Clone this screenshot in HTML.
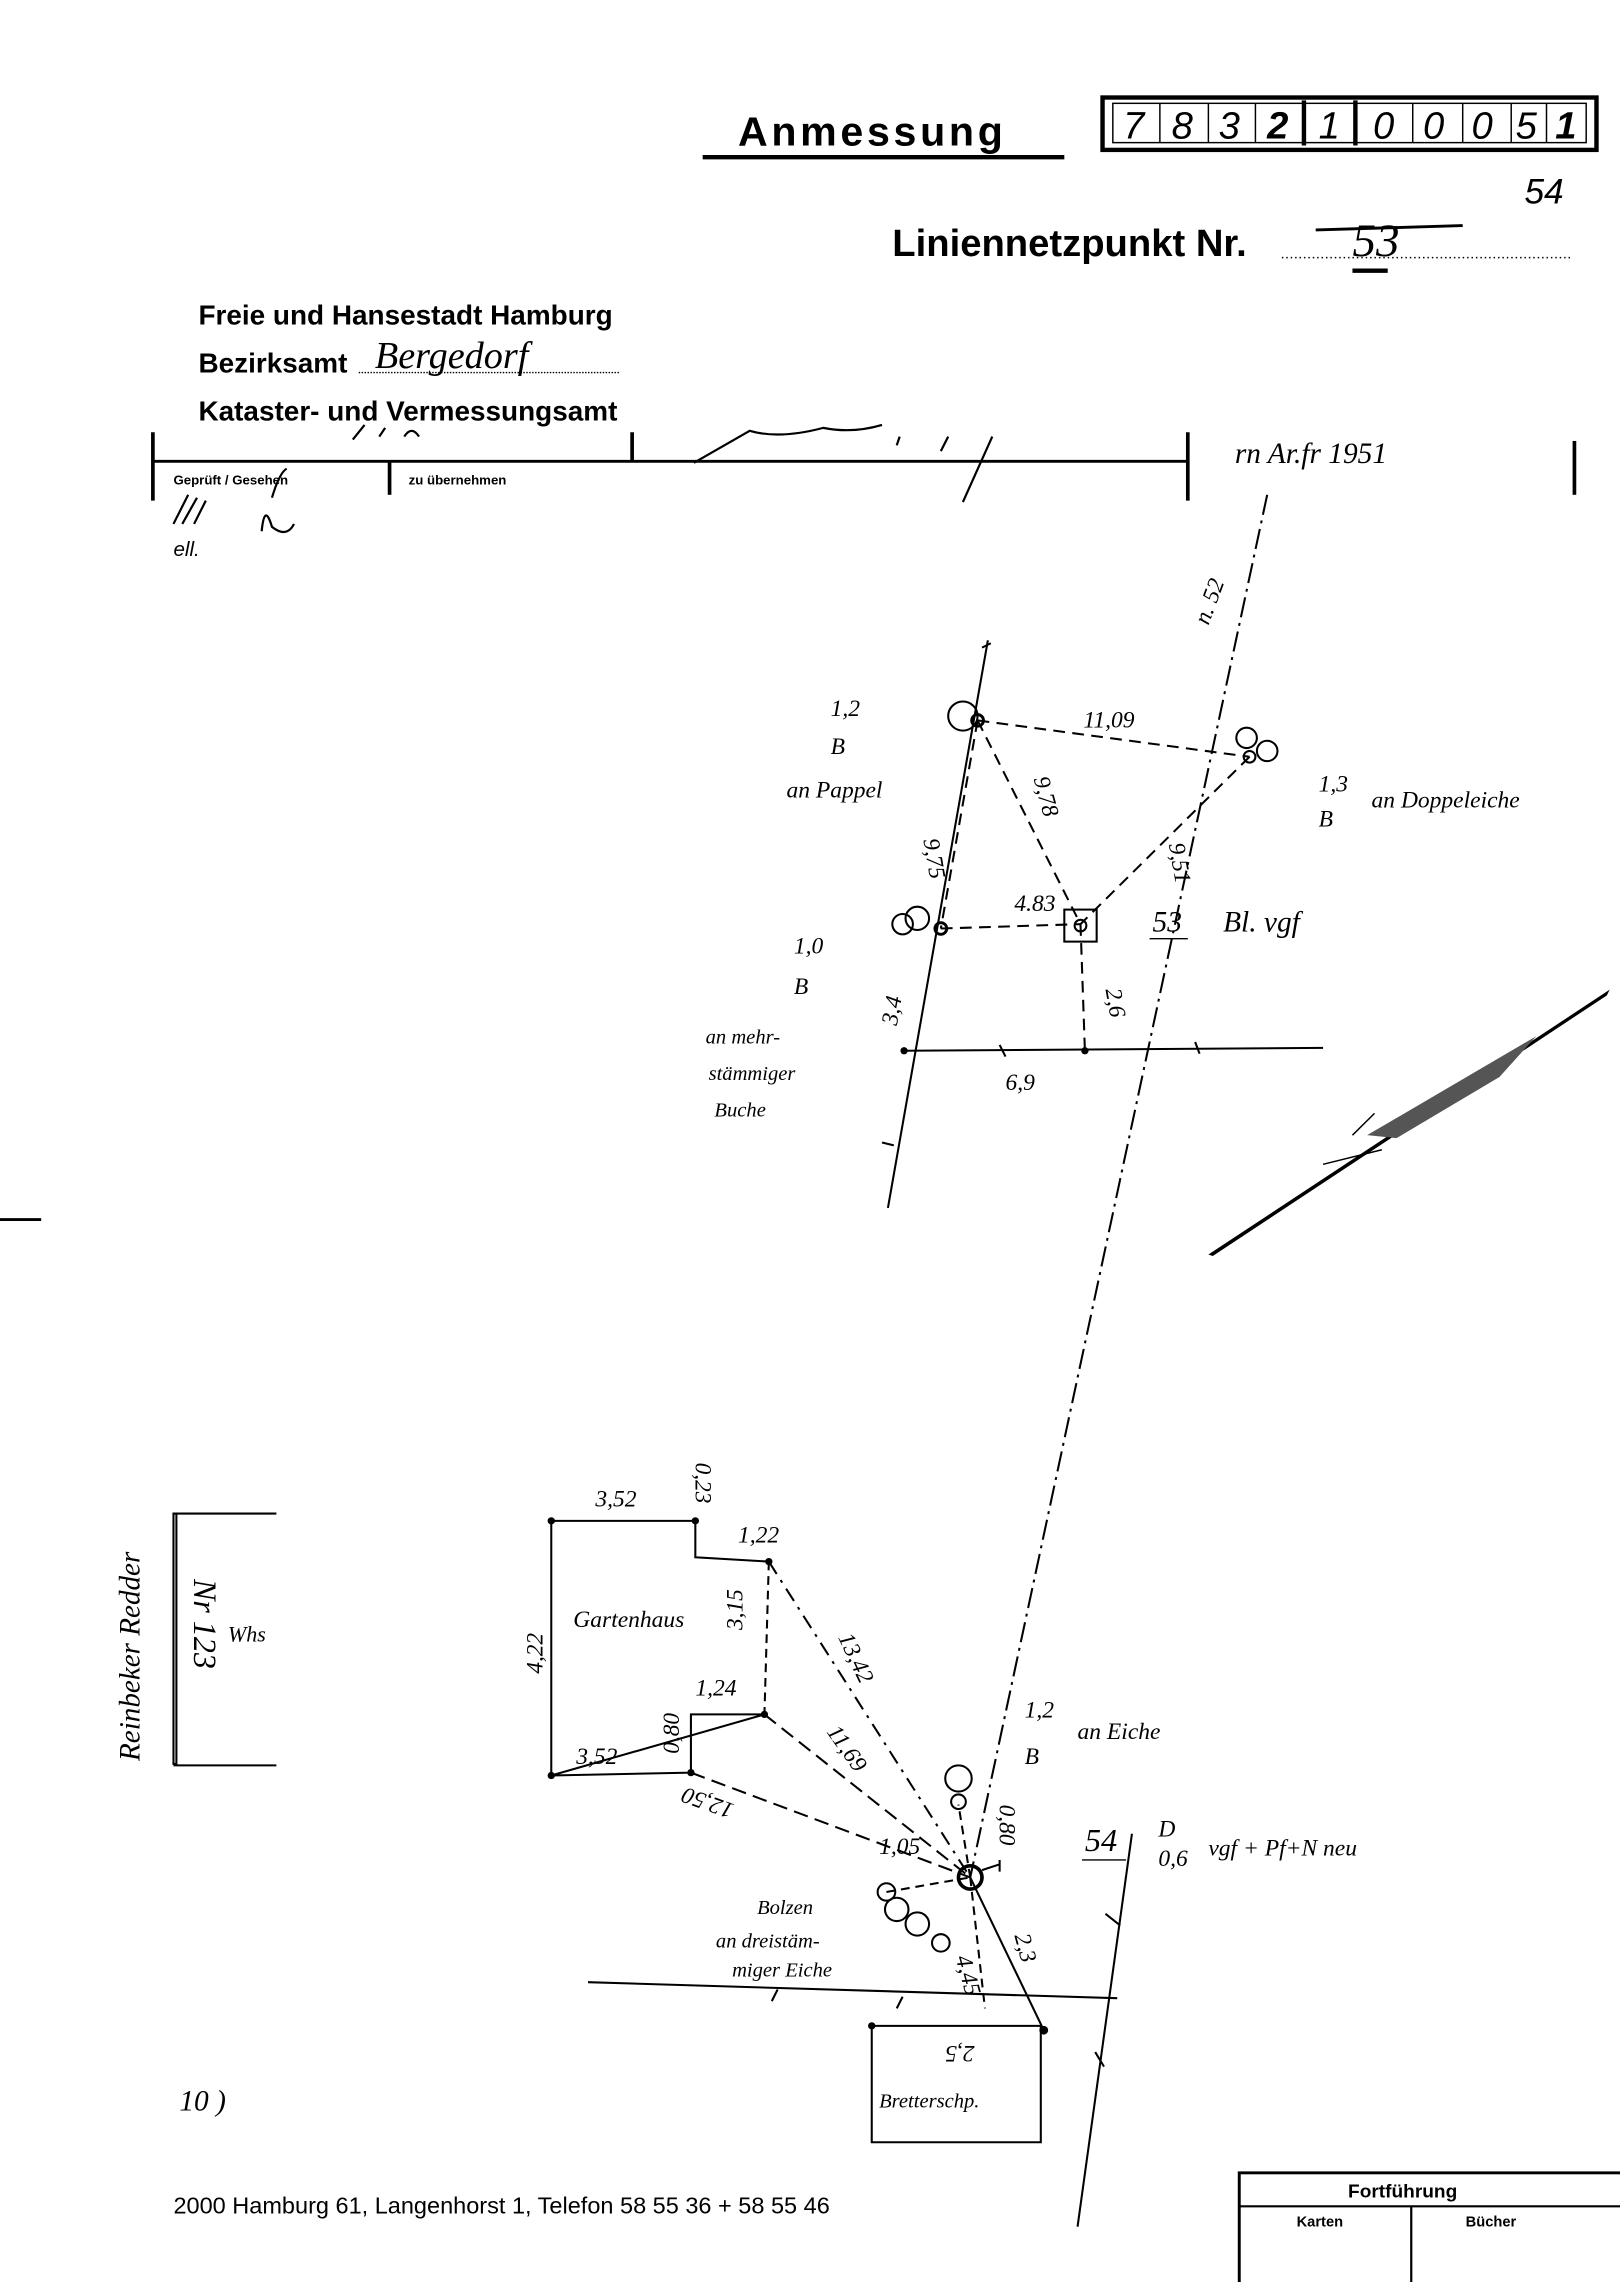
<!DOCTYPE html>
<html><head><meta charset="utf-8"><style>
html,body{margin:0;padding:0;background:#fff}
svg{display:block}
</style></head><body>
<svg width="1620" height="2282" viewBox="0 0 1102 1568" preserveAspectRatio="none" xmlns="http://www.w3.org/2000/svg" font-family="Liberation Sans, sans-serif">
<rect width="1102" height="1568" fill="#fff"/>
<!-- header -->
<text x="502" y="100" font-size="28" font-weight="bold" letter-spacing="2.5">Anmessung</text>
<line x1="478" y1="108" x2="724" y2="108" stroke="#000" stroke-width="3"/>
<rect x="750" y="67" width="336" height="36" fill="none" stroke="#000" stroke-width="3"/>
<rect x="757" y="71" width="322" height="27" fill="none" stroke="#000" stroke-width="1"/>
<g stroke="#000" stroke-width="1">
<line x1="789" y1="71" x2="789" y2="98"/><line x1="822" y1="71" x2="822" y2="98"/><line x1="854" y1="71" x2="854" y2="98"/>
<line x1="887" y1="69" x2="887" y2="100" stroke-width="3"/><line x1="922" y1="69" x2="922" y2="100" stroke-width="3"/>
<line x1="961" y1="71" x2="961" y2="98"/><line x1="995" y1="71" x2="995" y2="98"/><line x1="1028" y1="71" x2="1028" y2="98"/><line x1="1052" y1="71" x2="1052" y2="98"/>
</g>
<g font-size="26" font-style="italic" font-family="Liberation Sans, sans-serif">
<text x="764" y="95">7</text><text x="797" y="95">8</text><text x="829" y="95">3</text><text x="862" y="95" font-weight="bold">2</text><text x="897" y="95">1</text><text x="934" y="95">0</text><text x="968" y="95">0</text><text x="1001" y="95">0</text><text x="1031" y="95">5</text><text x="1058" y="95" font-weight="bold">1</text>
</g>
<text x="1037" y="140" font-size="24" font-style="italic">54</text>
<text x="607" y="176" font-size="26" font-weight="bold">Liniennetzpunkt Nr.</text>
<line x1="872" y1="177" x2="1068" y2="177" stroke="#000" stroke-width="1" stroke-dasharray="1 2"/>
<text x="920" y="176" font-size="32" font-style="italic" font-family="Liberation Serif, serif">53</text>
<line x1="895" y1="158" x2="995" y2="155" stroke="#000" stroke-width="2"/>
<line x1="920" y1="186" x2="944" y2="186" stroke="#000" stroke-width="3"/>

<g font-size="19" font-weight="bold">
<text x="135" y="223">Freie und Hansestadt Hamburg</text>
<text x="135" y="256">Bezirksamt</text>
<text x="135" y="289">Kataster- und Vermessungsamt</text>
</g>
<line x1="244" y1="256" x2="421" y2="256" stroke="#000" stroke-width="1" stroke-dasharray="1 1"/>
<text x="255" y="253" font-size="26" font-style="italic" font-family="Liberation Serif, serif">Bergedorf</text>
<line x1="105" y1="317" x2="808" y2="317" stroke="#000" stroke-width="2"/>
<g stroke="#000" stroke-width="2.5">
<line x1="104" y1="297" x2="104" y2="344"/><line x1="265" y1="317" x2="265" y2="340"/><line x1="430" y1="297" x2="430" y2="317"/><line x1="808" y1="297" x2="808" y2="344"/><line x1="1071" y1="303" x2="1071" y2="340"/>
</g>
<text x="118" y="333" font-size="9" font-weight="bold">Geprüft / Gesehen</text>
<text x="278" y="333" font-size="9" font-weight="bold">zu übernehmen</text>
<g fill="none" stroke="#000" stroke-width="1.5">
<path d="M185 342 Q190 325 195 322 M178 365 Q180 345 185 362 Q195 370 200 360"/>
<path d="M472 318 L510 296 Q530 302 560 294 Q580 298 600 292 M612 300 l-2 6 M655 345 L675 300 M640 310 l5 -10"/>
<path d="M118 360 L128 340 M124 360 l10 -18 M132 360 l8 -16"/>
<path d="M240 302 l8 -10 M258 300 l4 -6 M275 300 q5 -8 10 0"/>
</g>
<text x="118" y="382" font-size="14" font-style="italic">ell.</text>
<text x="840" y="318" font-size="20" font-style="italic" font-family="Liberation Serif, serif">rn  Ar.fr 1951</text>

<!-- upper diagram -->
<g fill="none" stroke="#000" stroke-width="1.4">
<path d="M862 340 L660 1290" stroke-dasharray="14 4 2 4"/>
<line x1="672" y1="440" x2="604" y2="830"/>
<line x1="615" y1="722" x2="900" y2="720"/>
<line x1="665" y1="495" x2="850" y2="520" stroke-dasharray="8 5"/>
<line x1="665" y1="495" x2="735" y2="635" stroke-dasharray="8 5"/>
<line x1="665" y1="495" x2="640" y2="638" stroke-dasharray="8 5"/>
<line x1="850" y1="520" x2="735" y2="635" stroke-dasharray="8 5"/>
<line x1="640" y1="638" x2="735" y2="635" stroke-dasharray="8 5"/>
<line x1="735" y1="635" x2="738" y2="722" stroke-dasharray="8 5"/>
<rect x="724" y="625" width="22" height="22"/>
<circle cx="735" cy="636" r="4"/>
<circle cx="665" cy="495" r="4" stroke-width="2"/>
<circle cx="655" cy="492" r="10"/>
<circle cx="850" cy="520" r="4"/>
<circle cx="848" cy="507" r="7"/><circle cx="862" cy="516" r="7"/>
<circle cx="640" cy="638" r="4" stroke-width="2"/>
<circle cx="614" cy="635" r="7"/><circle cx="624" cy="631" r="8"/>
<path d="M668 445 l6 -3 M600 785 l8 2 M813 716 l3 8 M680 718 l4 8"/>
</g>
<circle cx="615" cy="722" r="2.5"/><circle cx="738" cy="722" r="2.5"/>
<g font-style="italic" font-family="Liberation Serif, serif" font-size="16">
<text x="565" y="492">1,2</text><text x="565" y="518">B</text><text x="535" y="548">an Pappel</text>
<text x="737" y="500">11,09</text>
<text x="897" y="544">1,3</text><text x="897" y="568">B</text><text x="933" y="555">an Doppeleiche</text>
<text x="690" y="626">4.83</text>
<text x="784" y="640" font-size="20">53</text><text x="832" y="640" font-size="20">Bl. vgf</text>
<line x1="782" y1="645" x2="808" y2="645" stroke="#000"/>
<text x="540" y="655">1,0</text><text x="540" y="683">B</text>
<text x="480" y="717" font-size="14">an mehr-</text><text x="482" y="742" font-size="14">stämmiger</text><text x="486" y="767" font-size="14">Buche</text>
<text x="684" y="749">6,9</text>
<text x="0" y="0" transform="translate(610 705) rotate(-80)">3,4</text>
<text x="0" y="0" transform="translate(628 577) rotate(80)">9,75</text>
<text x="0" y="0" transform="translate(703 535) rotate(75)">9,78</text>
<text x="0" y="0" transform="translate(795 580) rotate(80)">9,51</text>
<text x="0" y="0" transform="translate(752 680) rotate(80)">2,6</text>
<text x="0" y="0" transform="translate(822 430) rotate(-70)">n. 52</text>
</g>
<!-- hatched streak -->
<path d="M822 862 L1095 680 L1093 684 L825 863 Z" fill="#000"/>
<path d="M930 780 L1045 712 L1020 740 L950 782 Z" fill="#555"/>
<path d="M900 800 l40 -10 M920 780 l15 -15" stroke="#000" stroke-width="1"/>

<!-- lower diagram -->
<g fill="none" stroke="#000" stroke-width="1.4">
<path d="M375 1045 L473 1045 L473 1070 L523 1073 M520 1178 L470 1178 L470 1218 L375 1220 Z M375 1045 L375 1220"/>
<line x1="523" y1="1073" x2="660" y2="1290" stroke-dasharray="10 5 2 5"/>
<line x1="520" y1="1178" x2="660" y2="1290" stroke-dasharray="10 5"/>
<line x1="470" y1="1218" x2="660" y2="1290" stroke-dasharray="10 5"/>
<line x1="523" y1="1073" x2="520" y2="1178" stroke-dasharray="6 4"/>
<line x1="603" y1="1300" x2="660" y2="1290" stroke-dasharray="6 4"/>
<line x1="660" y1="1290" x2="652" y2="1240" stroke-dasharray="6 4"/>
<line x1="660" y1="1290" x2="710" y2="1395" />
<line x1="660" y1="1290" x2="670" y2="1380" stroke-dasharray="6 4"/>
<line x1="400" y1="1362" x2="760" y2="1373"/>
<line x1="733" y1="1530" x2="770" y2="1260"/>
<path d="M593 1392 L593 1472 L708 1472 L708 1392 Z"/>
<circle cx="660" cy="1290" r="8" stroke-width="2.5"/>
<path d="M668 1285 l12 -4 M680 1278 l0 8"/>
<circle cx="652" cy="1222" r="9"/><circle cx="652" cy="1238" r="5"/>
<circle cx="603" cy="1300" r="6"/><circle cx="610" cy="1312" r="8"/><circle cx="624" cy="1322" r="8"/><circle cx="640" cy="1335" r="6"/>
<path d="M762 1323 l-10 -8 M745 1410 l6 10 M525 1375 l4 -8 M610 1380 l4 -8"/>
<rect x="118" y="1040" width="2" height="172"/>
<path d="M118 1040 L188 1040 M118 1213 L188 1213"/>
</g>
<g fill="#000"><circle cx="375" cy="1045" r="2.5"/><circle cx="473" cy="1045" r="2.5"/><circle cx="523" cy="1073" r="2.5"/><circle cx="520" cy="1178" r="2.5"/><circle cx="470" cy="1218" r="2.5"/><circle cx="375" cy="1220" r="2.5"/><circle cx="710" cy="1395" r="3"/><circle cx="593" cy="1392" r="2.5"/></g>
<g font-style="italic" font-family="Liberation Serif, serif" font-size="16">
<text x="405" y="1035">3,52</text><text x="502" y="1060">1,22</text>
<text x="0" y="0" transform="translate(473 1005) rotate(90)">0,23</text>
<text x="390" y="1118">Gartenhaus</text>
<text x="0" y="0" transform="translate(369 1150) rotate(-90)">4,22</text>
<text x="0" y="0" transform="translate(505 1120) rotate(-90)">3,15</text>
<text x="0" y="0" transform="translate(570 1125) rotate(65)">13,42</text>
<text x="0" y="0" transform="translate(562 1190) rotate(55)">11,69</text>
<text x="473" y="1165">1,24</text>
<text x="0" y="0" transform="translate(462 1205) rotate(-90)">0,80</text>
<text x="392" y="1212">3,52</text>
<text x="0" y="0" transform="translate(500 1240) rotate(200)">12,50</text>
<text x="598" y="1274">1,05</text>
<text x="0" y="0" transform="translate(680 1240) rotate(90)">0,80</text>
<text x="697" y="1180">1,2</text><text x="697" y="1212">B</text><text x="733" y="1195">an Eiche</text>
<text x="738" y="1272" font-size="22">54</text><text x="788" y="1262">D</text><text x="788" y="1282">0,6</text><text x="822" y="1275">vgf + Pf+N neu</text>
<line x1="736" y1="1278" x2="766" y2="1278" stroke="#000"/>
<text x="515" y="1315" font-size="14">Bolzen</text>
<text x="487" y="1338" font-size="14">an dreistäm-</text>
<text x="498" y="1358" font-size="14">miger Eiche</text>
<text x="0" y="0" transform="translate(690 1330) rotate(75)">2,3</text>
<text x="0" y="0" transform="translate(650 1345) rotate(75)">4,45</text>
<text x="0" y="0" transform="translate(663 1406) rotate(180)">2,5</text>
<text x="598" y="1448" font-size="14">Bretterschp.</text>
<text x="0" y="0" transform="translate(95 1210) rotate(-90)" font-size="20">Reinbeker  Redder</text>
<text x="0" y="0" transform="translate(132 1085) rotate(90)" font-size="22">Nr 123</text>
<text x="155" y="1128" font-size="15">Whs</text>
<text x="122" y="1450" font-size="20">10 )</text>
</g>

<text x="118" y="1521" font-size="16">2000 Hamburg 61, Langenhorst 1, Telefon 58 55 36 + 58 55 46</text>
<rect x="843" y="1493" width="262" height="80" fill="none" stroke="#000" stroke-width="2"/>
<line x1="843" y1="1516" x2="1102" y2="1516" stroke="#000" stroke-width="1.5"/>
<line x1="960" y1="1516" x2="960" y2="1568" stroke="#000" stroke-width="1.5"/>
<text x="917" y="1510" font-size="13" font-weight="bold">Fortführung</text>
<text x="882" y="1530" font-size="10" font-weight="bold">Karten</text>
<text x="997" y="1530" font-size="10" font-weight="bold">Bücher</text>
<line x1="0" y1="838" x2="28" y2="838" stroke="#000" stroke-width="2"/>
</svg>
</body></html>
